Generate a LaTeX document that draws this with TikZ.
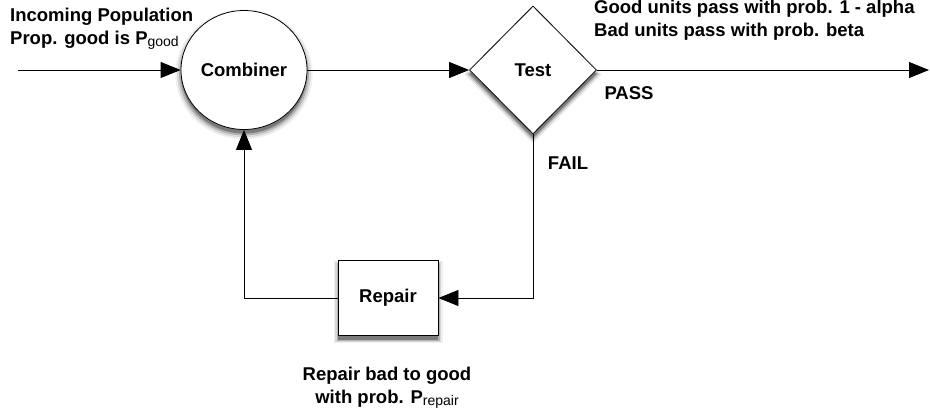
\documentclass[tikz,border=0pt]{standalone}
\usepackage{fontspec}
\setmainfont{Liberation Sans}
\usepackage{tikz}
\usetikzlibrary{shapes.geometric,arrows.meta,shadows,positioning,calc}

\begin{document}
\begin{tikzpicture}[x=1pt,y=-1pt,font=\fontsize{18.5}{23}\selectfont\bfseries,
  fuzzy/.style={
    general shadow={shadow scale=1.00,shadow yshift=-4pt,fill=black,opacity=.30},
    general shadow={shadow scale=1.03,shadow yshift=-4pt,fill=black,opacity=.18},
    general shadow={shadow scale=1.06,shadow yshift=-4pt,fill=black,opacity=.10},
    general shadow={shadow scale=1.09,shadow yshift=-4pt,fill=black,opacity=.06}},
  block/.style={draw,line width=0.8pt,fill=white,inner sep=0,fuzzy},
  flow/.style={line width=0.8pt,-{Triangle[length=20pt,width=16pt]}},
  tag/.style={inner sep=0,align=left}]
  \useasboundingbox (0,0) rectangle (930,418);
  % main blocks
  \node[block,ellipse,minimum width=126pt,minimum height=119pt] (combiner) at (244,70) {Combiner};
  \node[block,diamond,minimum width=127pt,minimum height=128pt] (test) at (533,70) {Test};
  \node[block,rectangle,minimum width=100pt,minimum height=75pt] (repair) at (388,298) {Repair};
  \coordinate (in) at (18,70);
  \coordinate (out) at (929,70);
  % connectors
  \draw[flow] (in) -- (combiner.west);
  \draw[flow] (combiner.east) -- (test.west);
  \draw[flow] (test.east) -- (out);
  \draw[flow] (test.south) |- (repair.east);
  \draw[flow] (repair.west) -| (combiner.south);
  % labels
  \node[tag,anchor=west] (incoming) at (10,29) {Incoming Population\\
    Prop. good is P\raisebox{-2pt}{\mdseries\fontsize{14}{14}\selectfont good}};
  \node[tag,anchor=west] (rules) at (594,20) {Good units pass with prob. 1 - alpha\\
    Bad units pass with prob. beta};
  \node[tag] (pass) at (629,93) {PASS};
  \node[tag] (fail) at (568,163) {FAIL};
  \node[tag,align=center] (note) at (387,388) {Repair bad to good\\
    with prob. P\raisebox{-2pt}{\mdseries\fontsize{14}{14}\selectfont repair}};
\end{tikzpicture}
\end{document}
